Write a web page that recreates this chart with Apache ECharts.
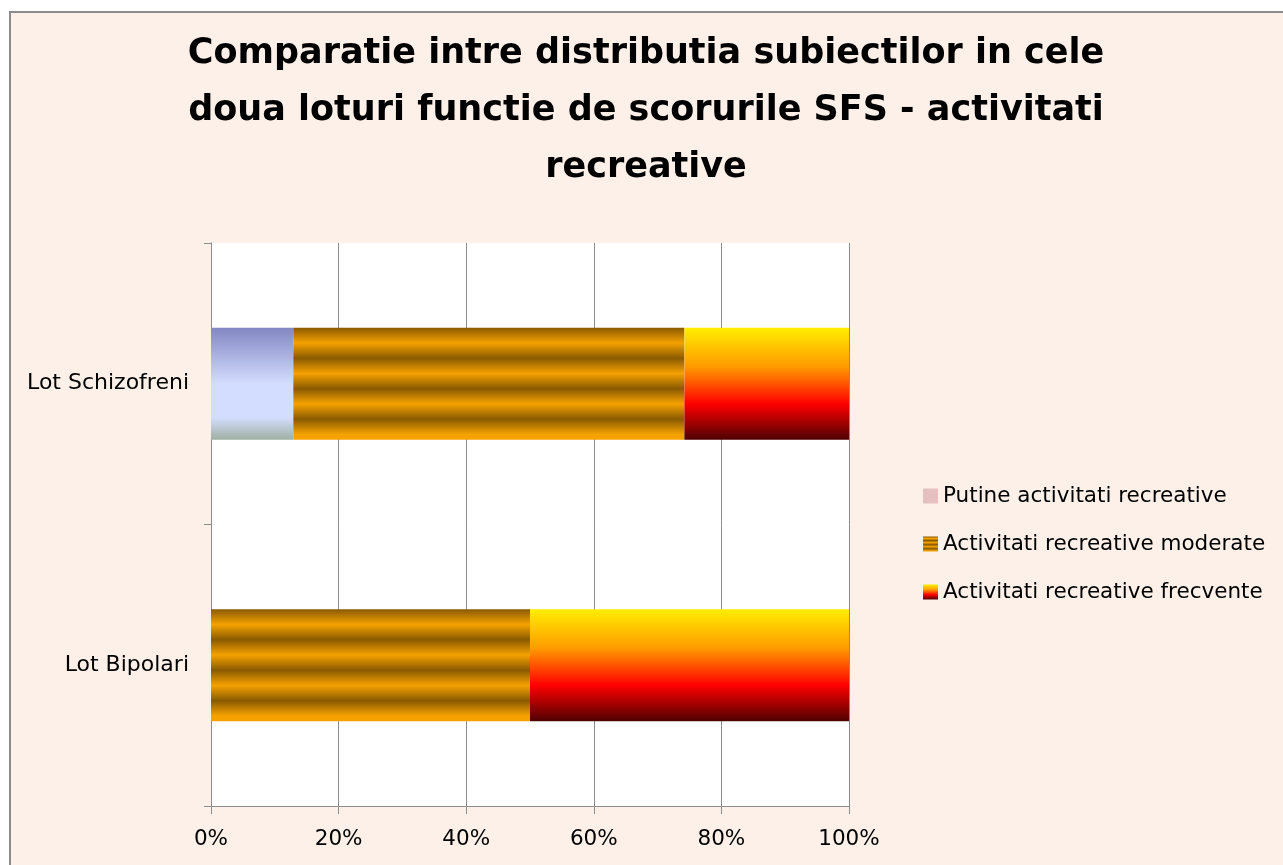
<!DOCTYPE html>
<html>
<head>
<meta charset="utf-8">
<script src="https://cdn.jsdelivr.net/npm/echarts@6/dist/echarts.min.js"></script>
<style>
  html, body { margin: 0; padding: 0; background: #ffffff; }
  #chart { width: 1283px; height: 865px; }
</style>
</head>
<body>
<div id="chart"></div>
<script>
// categories, bottom to top
const categories = ['Lot Bipolari', 'Lot Schizofreni'];
const seriesNames = ['Putine activitati recreative', 'Activitati recreative moderate', 'Activitati recreative frecvente'];
const putine = [0, 12.9];
const moderate = [50, 61.3];
const frecvente = [50, 25.8];

const FONT = '"DejaVu Sans", "Open Sans", sans-serif';

/*********** fills ***********/
const blueFill = new echarts.graphic.LinearGradient(0, 0, 0, 1, [
    { offset: 0, color: '#8387c3' },
    { offset: 0.5, color: '#d3ddff' },
    { offset: 0.8, color: '#d3ddff' },
    { offset: 1, color: '#9fb0a2' }
]);

const stripeStops = [];
const dark = '#8a5a00', orange = '#f5a200';
for (let i = 0; i <= 7; i++) {
    stripeStops.push({ offset: Math.min(1, i * 0.136), color: i % 2 === 0 ? dark : orange });
}
stripeStops.push({ offset: 1, color: orange });
const stripeFill = new echarts.graphic.LinearGradient(0, 0, 0, 1, stripeStops);

const fireFill = new echarts.graphic.LinearGradient(0, 0, 0, 1, [
    { offset: 0, color: '#ffee00' },
    { offset: 0.35, color: '#ff9a00' },
    { offset: 0.68, color: '#ff0000' },
    { offset: 1, color: '#4e0000' }
]);

const option = {
    backgroundColor: '#ffffff',
    animation: false,
    graphic: [{
        type: 'rect',
        z: -10,
        shape: { x: 10, y: 12, width: 1290, height: 880 },
        style: { fill: '#fcf0e8', stroke: '#8c8c8c', lineWidth: 2 }
    }],
    title: {
        text: 'Comparatie intre distributia subiectilor in cele\ndoua loturi functie de scorurile SFS - activitati\nrecreative',
        left: 641,
        top: 20,
        textAlign: 'center',
        textStyle: {
            fontFamily: FONT,
            fontSize: 35,
            fontWeight: 'bold',
            color: '#000',
            lineHeight: 57
        }
    },
    legend: {
        orient: 'vertical',
        left: 918,
        top: 480,
        itemGap: 26,
        itemWidth: 15,
        itemHeight: 15,
        icon: 'rect',
        data: [
            { name: seriesNames[0], itemStyle: { color: '#e6bfc0' } },
            { name: seriesNames[1] },
            { name: seriesNames[2] }
        ],
        textStyle: { fontFamily: FONT, fontSize: 21.5, color: '#000' }
    },
    grid: {
        left: 211,
        top: 243,
        right: 434,
        bottom: 59,
        backgroundColor: '#ffffff',
        show: true,
        borderWidth: 0
    },
    xAxis: {
        type: 'value',
        min: 0,
        max: 100,
        interval: 20,
        axisLine: { show: true, lineStyle: { color: '#8c8c8c', width: 1 } },
        axisTick: { show: true, length: 8, lineStyle: { color: '#8c8c8c' } },
        splitLine: { show: true, lineStyle: { color: '#8c8c8c', width: 1 } },
        axisLabel: {
            fontFamily: FONT,
            fontSize: 21.5,
            color: '#000',
            margin: 22,
            formatter: '{value}%'
        }
    },
    yAxis: {
        type: 'category',
        data: categories,
        axisLine: { show: true, lineStyle: { color: '#8c8c8c', width: 1 } },
        axisTick: { show: true, length: 7, lineStyle: { color: '#8c8c8c' } },
        axisLabel: { fontFamily: FONT, fontSize: 22, color: '#000', margin: 22 }
    },
    series: [
        {
            name: seriesNames[0],
            type: 'bar',
            stack: 'total',
            barWidth: 112,
            itemStyle: { color: blueFill },
            data: putine
        },
        {
            name: seriesNames[1],
            type: 'bar',
            stack: 'total',
            barWidth: 112,
            itemStyle: { color: stripeFill },
            data: moderate
        },
        {
            name: seriesNames[2],
            type: 'bar',
            stack: 'total',
            barWidth: 112,
            itemStyle: { color: fireFill },
            data: frecvente
        }
    ]
};

const chart = echarts.init(document.getElementById('chart'));
chart.setOption(option);
</script>
</body>
</html>
